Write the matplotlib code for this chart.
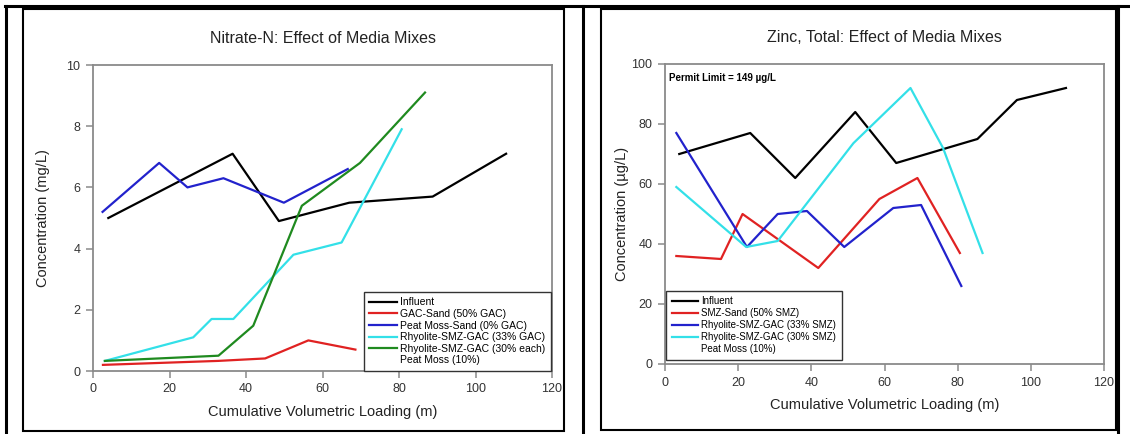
import matplotlib
matplotlib.use('Agg')
from matplotlib import pyplot as plt
from matplotlib.lines import Line2D
from matplotlib.patches import Rectangle

plt.rcParams['font.family'] = ['Liberation Sans', 'DejaVu Sans']

# ---- Nitrate-N data (mg/L) ----
nit_inf_x = [4, 36.5, 48.6, 67, 88.8, 108]
nit_inf_y = [5.0, 7.1, 4.9, 5.5, 5.7, 7.1]
nit_gac_x = [2.6, 32.7, 45, 56.3, 68.6]
nit_gac_y = [0.2, 0.33, 0.41, 1.0, 0.7]
nit_peat_x = [2.5, 17.3, 24.7, 34.1, 49.9, 66.6]
nit_peat_y = [5.2, 6.8, 6.0, 6.3, 5.5, 6.6]
nit_rhy33_x = [3.1, 26.2, 31, 36.7, 52.4, 65, 80.7]
nit_rhy33_y = [0.33, 1.1, 1.7, 1.7, 3.8, 4.2, 7.9]
nit_rhy30_x = [3.1, 32.8, 41.9, 54.6, 69.8, 86.8]
nit_rhy30_y = [0.33, 0.5, 1.48, 5.4, 6.8, 9.1]

# ---- Zinc data (ug/L) ----
zn_inf_x = [3.9, 23.3, 35.6, 52, 63.2, 85.4, 96.2, 109.6]
zn_inf_y = [70, 77, 62, 84, 67, 75, 88, 92]
zn_smz_x = [3.1, 15.3, 21.2, 41.9, 58.6, 69, 80.6]
zn_smz_y = [36, 35, 50, 32, 55, 62, 37]
zn_rhy33_x = [3.1, 22.4, 30.8, 38.8, 49, 62.4, 70, 81]
zn_rhy33_y = [77, 39, 50, 51, 39, 52, 53, 26]
zn_rhy30_x = [3.1, 22.2, 30.8, 51.5, 67.1, 76, 86.8]
zn_rhy30_y = [59, 39, 41, 73.6, 92, 72, 37]

nit_labels = ['Influent', 'GAC-Sand (50% GAC)', 'Peat Moss-Sand (0% GAC)',
              'Rhyolite-SMZ-GAC (33% GAC)', 'Rhyolite-SMZ-GAC (30% each)']
zn_labels = ['Influent', 'SMZ-Sand (50% SMZ)', 'Rhyolite-SMZ-GAC (33% SMZ)',
             'Rhyolite-SMZ-GAC (30% SMZ)']
extra_label = 'Peat Moss (10%)'

W, H = 1130, 434
fig = plt.figure(figsize=(W / 100, H / 100), dpi=100)


def fx(x):
    return x / W


def fy(y):
    return 1 - y / H


# table-like frame around the two panels
for xs, ys in [((5, W), (6, 6)), ((6, 6), (6, H)), ((583, 583), (6, H)), ((1118, 1118), (6, H))]:
    fig.add_artist(Line2D([fx(v) for v in xs], [fy(v) for v in ys], color='black', lw=2.2))
for x0, y0, x1, y1 in [(23, 9, 564, 431), (601, 9, 1116, 430)]:
    fig.add_artist(Rectangle((fx(x0), fy(y1)), fx(x1) - fx(x0), fy(y0) - fy(y1),
                             fill=False, edgecolor='black', lw=1.5))

ax1 = fig.add_axes([fx(93), fy(371), fx(552) - fx(93), fy(65) - fy(371)])
ax2 = fig.add_axes([fx(665), fy(364), fx(1104) - fx(665), fy(64) - fy(364)])

colors = ['black', '#e02222', '#2222cc', '#33e0e8', '#1f8a1f']
lw = 1.6

ax1.plot(nit_inf_x, nit_inf_y, color=colors[0], lw=lw, label=nit_labels[0])
ax1.plot(nit_gac_x, nit_gac_y, color=colors[1], lw=lw, label=nit_labels[1])
ax1.plot(nit_peat_x, nit_peat_y, color=colors[2], lw=lw, label=nit_labels[2])
ax1.plot(nit_rhy33_x, nit_rhy33_y, color=colors[3], lw=lw, label=nit_labels[3])
ax1.plot(nit_rhy30_x, nit_rhy30_y, color=colors[4], lw=lw, label=nit_labels[4])
ax1.plot([], [], color='none', label=extra_label)

ax2.plot(zn_inf_x, zn_inf_y, color=colors[0], lw=lw, label=zn_labels[0])
ax2.plot(zn_smz_x, zn_smz_y, color=colors[1], lw=lw, label=zn_labels[1])
ax2.plot(zn_rhy33_x, zn_rhy33_y, color=colors[2], lw=lw, label=zn_labels[2])
ax2.plot(zn_rhy30_x, zn_rhy30_y, color=colors[3], lw=lw, label=zn_labels[3])
ax2.plot([], [], color='none', label=extra_label)

for ax in (ax1, ax2):
    ax.set_xlim(0, 120)
    ax.set_xticks(range(0, 121, 20))
    for s in ax.spines.values():
        s.set_color('#8a8a8a')
        s.set_linewidth(1.3)
    ax.tick_params(direction='out', length=5, width=1.1, color='#8a8a8a',
                   labelsize=9, labelcolor='#333333', pad=4)
    ax.set_xlabel('Cumulative Volumetric Loading (m)', fontsize=10.5, color='#222222', labelpad=7)

ax1.set_ylim(0, 10)
ax1.set_yticks(range(0, 11, 2))
ax1.set_ylabel('Concentration (mg/L)', fontsize=10.5, color='#222222', labelpad=12)
ax1.set_title('Nitrate-N: Effect of Media Mixes', fontsize=11.5, color='#222222', pad=16)

ax2.set_ylim(0, 100)
ax2.set_yticks(range(0, 101, 20))
ax2.set_ylabel('Concentration (\u00b5g/L)', fontsize=10.5, color='#222222', labelpad=2)
ax2.set_title('Zinc, Total: Effect of Media Mixes', fontsize=11.5, color='#222222', pad=16)
ax2.text(0.008, 0.97, 'Permit Limit = 149 \u00b5g/L', transform=ax2.transAxes,
         fontsize=7, fontweight='bold', ha='left', va='top')

leg1 = ax1.legend(loc='lower right', bbox_to_anchor=(0.997, 0.0), borderaxespad=0,
                  fontsize=7.5, fancybox=False, framealpha=1, edgecolor='#333333',
                  handlelength=2.6, handletextpad=0.3, labelspacing=0.15, borderpad=0.55)
leg1.get_frame().set_linewidth(1.0)
leg2 = ax2.legend(loc='lower left', bbox_to_anchor=(0.002, 0.013), borderaxespad=0,
                  fontsize=7, fancybox=False, framealpha=1, edgecolor='#333333',
                  handlelength=2.7, handletextpad=0.3, labelspacing=0.2, borderpad=0.6)
leg2.get_frame().set_linewidth(1.0)

fig.savefig('out.png', dpi=100)
